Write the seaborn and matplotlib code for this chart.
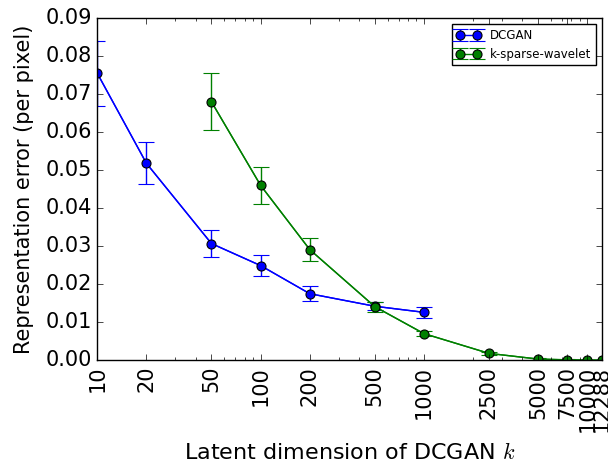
import numpy as np
import pandas as pd
import matplotlib
matplotlib.use("Agg")
import matplotlib.pyplot as plt
import seaborn as sns

# data
dcgan_k = [10, 20, 50, 100, 200, 500, 1000]
dcgan_err = [0.0755, 0.0518, 0.0307, 0.0249, 0.0175, 0.0142, 0.0126]
dcgan_std = [0.0085, 0.0055, 0.0036, 0.0028, 0.0019, 0.0011, 0.0015]

wav_k = [50, 100, 200, 500, 1000, 2500, 5000, 7500, 10000, 12288]
wav_err = [0.0680, 0.0460, 0.0291, 0.0141, 0.0070, 0.0018, 0.0003, 0.0001, 0.00005, 0.0]
wav_std = [0.0075, 0.0049, 0.0030, 0.0013, 0.0007, 0.0004, 0.0002, 0.0001, 0.00005, 0.0]

xticks = [10, 20, 50, 100, 200, 500, 1000, 2500, 5000, 7500, 10000, 12288]

plt.style.use("classic")
plt.rcParams["font.family"] = ["DejaVu Sans"]
plt.rcParams["mathtext.fontset"] = "cm"

fig = plt.figure(figsize=(6.08, 4.66), dpi=100, facecolor="white")
ax = fig.add_axes([0.16, 0.227, 0.83, 0.734])

for k, e, s, col, name in [(dcgan_k, dcgan_err, dcgan_std, "blue", "DCGAN"),
                           (wav_k, wav_err, wav_std, "green", "k-sparse-wavelet")]:
    df = pd.DataFrame({"k": k, "err": e})
    sns.lineplot(data=df, x="k", y="err", ax=ax, color=col, linewidth=1,
                 legend=False)
    ax.errorbar(k, e, yerr=s, fmt="o-", color=col, ecolor=col, elinewidth=1,
                capsize=6, capthick=1, markersize=6.5, markeredgecolor="black",
                markeredgewidth=0.8, linewidth=1, label=name)

ax.set_xscale("log")
ax.set_xlim(10, 12288)
ax.set_ylim(0, 0.09)
ax.set_xticks(xticks)
ax.set_xticklabels([str(t) for t in xticks], rotation=90)
ax.set_yticks(np.arange(0, 0.0901, 0.01))
ax.set_yticklabels(["%.2f" % v for v in np.arange(0, 0.0901, 0.01)])
ax.tick_params(labelsize=15)

ax.set_xlabel("Latent dimension of DCGAN $k$", fontsize=16, labelpad=7)
ax.set_ylabel("Representation error (per pixel)", fontsize=15, labelpad=8)

ax.legend(loc="upper right", fontsize=8.5, numpoints=2)

fig.savefig("out.png", dpi=100, facecolor="white")
